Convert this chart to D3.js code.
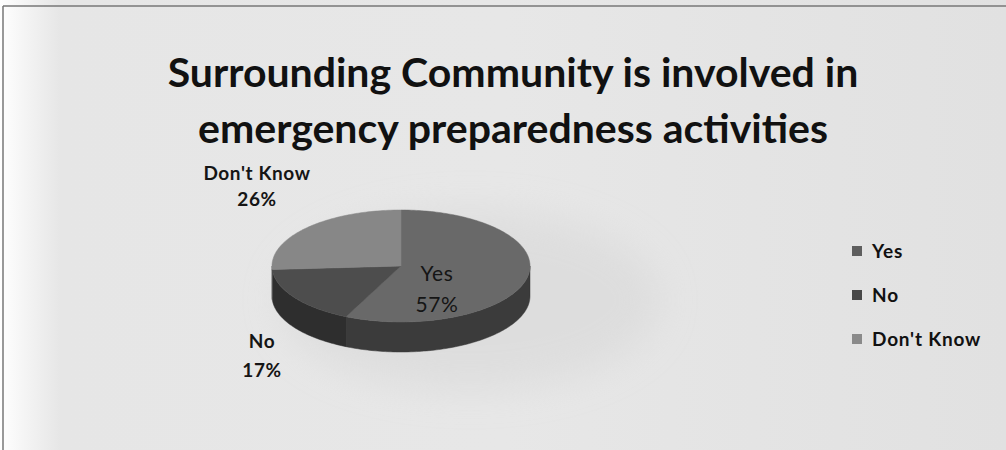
<!DOCTYPE html>
<html>
<head>
<meta charset="utf-8">
<script src="https://cdn.jsdelivr.net/npm/d3@7"></script>
<style>
  html, body { margin: 0; padding: 0; background: #e4e4e4; }
  svg { display: block; }
</style>
</head>
<body>
<svg id="chart" width="1006" height="450"></svg>
<script>
// Survey answers and their shares (percent)
const categories = ["Yes", "No", "Don't Know"];
const values = [57, 17, 26];
const titleLines = ["Surrounding Community is involved in", "emergency preparedness activities"];

const topColors  = ["#696969", "#4e4e4e", "#878787"];
const sideColors = ["#3a3a3a", "#2e2e2e", "#505050"];
const legendColors = ["#5e5e5e", "#474747", "#8a8a8a"];

const W = 1006, H = 450;
const svg = d3.select("#chart");
const defs = svg.append("defs");

// Page backdrop: light grey with a white fade on the left edge
const bg = defs.append("linearGradient").attr("id", "bg").attr("x1", 0).attr("x2", 1).attr("y1", 0).attr("y2", 0);
bg.append("stop").attr("offset", 0).attr("stop-color", "#ffffff");
bg.append("stop").attr("offset", 0.025).attr("stop-color", "#f4f4f4");
bg.append("stop").attr("offset", 0.06).attr("stop-color", "#e6e6e6");
bg.append("stop").attr("offset", 0.5).attr("stop-color", "#e7e7e7");
bg.append("stop").attr("offset", 1).attr("stop-color", "#e1e1e1");
svg.append("rect").attr("width", W).attr("height", H).attr("fill", "url(#bg)");

const haze = defs.append("filter").attr("id", "haze").attr("x", "-50%").attr("y", "-50%").attr("width", "200%").attr("height", "200%");
haze.append("feGaussianBlur").attr("stdDeviation", 18);
const soft = defs.append("filter").attr("id", "soft");
soft.append("feGaussianBlur").attr("stdDeviation", 0.7);

// faint shadow glow behind the pie
svg.append("ellipse").attr("cx", 470).attr("cy", 300).attr("rx", 190).attr("ry", 90)
  .attr("fill", "#d8d8d8").attr("opacity", 0.6).attr("filter", "url(#haze)");

// Frame lines
svg.append("line").attr("x1", 3).attr("x2", W).attr("y1", 6).attr("y2", 6)
  .attr("stroke", "#777").attr("stroke-width", 1.5);
svg.append("line").attr("x1", 3).attr("x2", 3).attr("y1", 6).attr("y2", H)
  .attr("stroke", "#777").attr("stroke-width", 1.5);

// Title
const title = svg.append("text")
  .attr("text-anchor", "middle")
  .attr("font-family", "Lato, 'Open Sans', sans-serif")
  .attr("font-weight", 700)
  .attr("font-size", 41)
  .attr("fill", "#111");
title.selectAll("tspan").data(titleLines).join("tspan")
  .attr("x", 513)
  .attr("y", (d, i) => 87 + i * 56)
  .text(d => d);

// 3D pie geometry
const cx = 401, cy = 266, rx = 129, ry = 56, depth = 30;
const pie = d3.pie().sort(null).startAngle(0).endAngle(2 * Math.PI);
const arcs = pie(values);

const px = a => cx + rx * Math.sin(a);
const py = (a, off) => cy - ry * Math.cos(a) + off;
const line = d3.line();

function arcPoints(a0, a1, off) {
  const n = Math.max(2, Math.ceil((a1 - a0) / 0.02));
  return d3.range(n + 1).map(i => {
    const a = a0 + (a1 - a0) * i / n;
    return [px(a), py(a, off)];
  });
}

const pieG = svg.append("g").attr("filter", "url(#soft)");

// Side walls: only the front half (angles between 90° and 270°) is visible
const frontLo = Math.PI / 2, frontHi = 3 * Math.PI / 2;
arcs.forEach((d, i) => {
  const a0 = Math.max(d.startAngle, frontLo), a1 = Math.min(d.endAngle, frontHi);
  if (a1 <= a0) return;
  const pts = arcPoints(a0, a1, 0).concat(arcPoints(a0, a1, depth).reverse());
  pieG.append("path").attr("d", line(pts) + "Z")
    .attr("fill", sideColors[i]).attr("stroke", sideColors[i]).attr("stroke-width", 0.5);
});

// Top faces
arcs.forEach((d, i) => {
  const pts = [[cx, cy]].concat(arcPoints(d.startAngle, d.endAngle, 0));
  pieG.append("path").attr("d", line(pts) + "Z")
    .attr("fill", topColors[i]).attr("stroke", topColors[i]).attr("stroke-width", 0.5);
});

// Data labels
const labelFont = "Lato, 'Open Sans', sans-serif";
const labelPos = [
  { x: 437, y: 281, gap: 31, size: 21, weight: 400 },
  { x: 262, y: 348, gap: 29, size: 19, weight: 700 },
  { x: 257, y: 180, gap: 26, size: 19, weight: 700 }
];
categories.forEach((c, i) => {
  const p = labelPos[i];
  const t = svg.append("text").attr("text-anchor", "middle")
    .attr("font-family", labelFont).attr("font-size", p.size)
    .attr("font-weight", p.weight).attr("letter-spacing", 0.6).attr("fill", "#151515");
  t.append("tspan").attr("x", p.x).attr("y", p.y).text(c);
  t.append("tspan").attr("x", p.x).attr("y", p.y + p.gap).text(values[i] + "%");
});

// Legend
const legendY = d3.scalePoint().domain(categories).range([251, 339]);
const legend = svg.append("g");
categories.forEach((c, i) => {
  const y = legendY(c);
  legend.append("rect").attr("x", 852).attr("y", y - 5).attr("width", 10).attr("height", 10)
    .attr("fill", legendColors[i]);
  legend.append("text").attr("x", 872).attr("y", y + 7)
    .attr("font-family", labelFont).attr("font-size", 19).attr("font-weight", 700)
    .attr("letter-spacing", 0.8).attr("fill", "#111").text(c);
});
</script>
</body>
</html>
